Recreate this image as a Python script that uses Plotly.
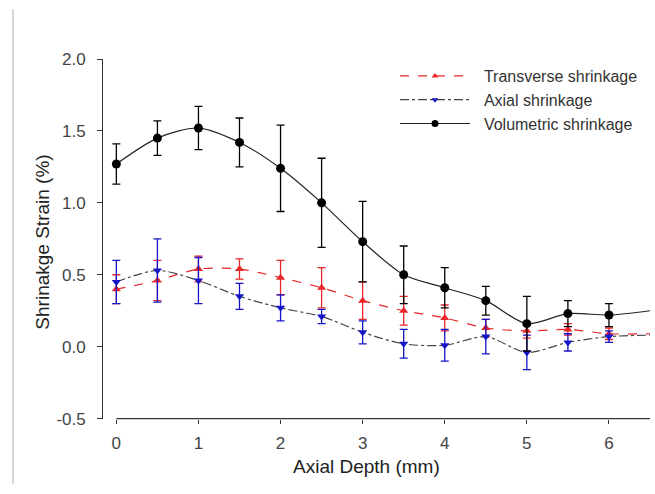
import plotly.graph_objects as go

depth = [0, 0.5, 1, 1.5, 2, 2.5, 3, 3.5, 4, 4.5, 5, 5.5, 6]
line_depth = depth + [6.5]

transverse = [0.40, 0.46, 0.54, 0.54, 0.48, 0.41, 0.32, 0.25, 0.20, 0.13, 0.11, 0.12, 0.09]
transverse_end = 0.09
transverse_err = [0.10, 0.14, 0.09, 0.07, 0.12, 0.14, 0.13, 0.10, 0.09, 0.06, 0.05, 0.04, 0.04]

axial = [0.45, 0.53, 0.46, 0.35, 0.27, 0.21, 0.10, 0.02, 0.01, 0.07, -0.04, 0.03, 0.07]
axial_end = 0.08
axial_err = [0.15, 0.22, 0.16, 0.09, 0.09, 0.05, 0.08, 0.10, 0.11, 0.12, 0.12, 0.06, 0.04]

volumetric = [1.27, 1.45, 1.52, 1.42, 1.24, 1.00, 0.73, 0.50, 0.41, 0.32, 0.16, 0.23, 0.22]
volumetric_end = 0.25
volumetric_err = [0.14, 0.12, 0.15, 0.17, 0.30, 0.31, 0.28, 0.20, 0.14, 0.10, 0.19, 0.09, 0.08]

x_ticks = [0, 1, 2, 3, 4, 5, 6]
y_ticks = [-0.5, 0.0, 0.5, 1.0, 1.5, 2.0]
y_ticktext = ["-0.5", "0.0", "0.5", "1.0", "1.5", "2.0"]

W, H = 655, 494
FONT = "Liberation Sans, Arial, sans-serif"
PAD = "\u00a0\u00a0"

fig = go.Figure()

series = [
    ("Transverse shrinkage", transverse, transverse_end, transverse_err,
     "#e8262b", "#e8262b", "dash", "triangle-up", 8),
    ("Axial shrinkage", axial, axial_end, axial_err,
     "#1414c8", "#444444", "dashdot", "triangle-down", 8),
    ("Volumetric shrinkage", volumetric, volumetric_end, volumetric_err,
     "#000000", "#222222", "solid", "circle", 9),
]

for name, vals, end, err, mcol, lcol, dash, sym, msize in series:
    fig.add_trace(go.Scatter(
        x=line_depth, y=vals + [end], mode="lines",
        line=dict(color=lcol, width=1.2, dash=dash, shape="spline", smoothing=0.8),
        showlegend=False, hoverinfo="skip"))
    fig.add_trace(go.Scatter(
        x=depth, y=vals, mode="markers", name=name,
        marker=dict(color=mcol, size=msize, symbol=sym),
        error_y=dict(type="data", array=err, visible=True, color=mcol,
                     thickness=1.3, width=4),
        cliponaxis=False, showlegend=False))
    fig.add_trace(go.Scatter(
        x=[None], y=[None], mode="lines+markers", name=PAD + name,
        line=dict(color=lcol, width=1.2, dash=dash),
        marker=dict(color=mcol, size=msize - 2, symbol=sym)))

# light border line on the left edge of the image
fig.add_shape(type="line", xref="paper", yref="paper",
              x0=13 / W, x1=13 / W, y0=0, y1=1,
              line=dict(color="#c8c8c8", width=1.5))

ytop = 52
ybot = 426
x_min = -0.16
x_max = 6.5
px_per_unit = 82.1
x_left_px = 650 - (x_max - x_min) * px_per_unit

# detached x axis line starting at depth 0 (SigmaPlot style)
fig.add_shape(type="line", xref="x", yref="paper",
              x0=0, x1=x_max, y0=1 - ybot / H, y1=1 - ybot / H,
              line=dict(color="#333", width=1.2))

fig.update_layout(
    width=W, height=H,
    margin=dict(l=0, r=0, t=0, b=0),
    paper_bgcolor="white", plot_bgcolor="white",
    font=dict(family=FONT, color="#333333", size=17),
    xaxis=dict(
        domain=[x_left_px / W, 650 / W], range=[x_min, x_max],
        tickvals=x_ticks, ticks="outside", ticklen=4, tickcolor="#333",
        showline=False, showgrid=False, zeroline=False,
        tickfont=dict(size=17, color="#444"), ticklabelstandoff=5,
        anchor="y",
    ),
    yaxis=dict(
        domain=[1 - ybot / H, 1 - ytop / H], range=[-0.5, 2.0],
        tickvals=y_ticks, ticktext=y_ticktext,
        ticks="outside", ticklen=5, tickcolor="#333",
        showline=True, linecolor="#333", linewidth=1.2,
        showgrid=False, zeroline=False,
        tickfont=dict(size=17, color="#444"), ticklabelstandoff=8,
        anchor="x",
    ),
    annotations=[
        dict(text="Axial Depth (mm)", xref="paper", yref="paper",
             x=(288 + 445) / 2 / W, y=1 - 476 / H, xanchor="center", yanchor="middle",
             showarrow=False, font=dict(size=19, color="#222")),
        dict(text="Shrinakge Strain (%)", xref="paper", yref="paper",
             x=43 / W, y=1 - 243 / H, xanchor="center", yanchor="middle",
             textangle=-90, showarrow=False, font=dict(size=19, color="#222")),
    ],
    legend=dict(
        x=395 / W, y=1 - 52 / H, xanchor="left", yanchor="top",
        bgcolor="rgba(0,0,0,0)", font=dict(size=16, color="#333"),
        tracegroupgap=0, itemwidth=70,
    ),
)

fig.write_html("out.html")
